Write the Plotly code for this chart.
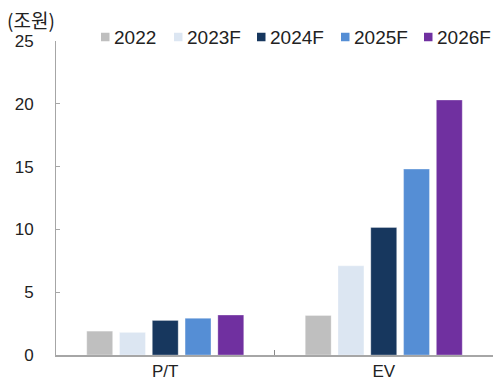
import plotly.graph_objects as go

categories = ["P/T", "EV"]
series_names = ["2022", "2023F", "2024F", "2025F", "2026F"]
values_2022 = [1.9, 3.15]
values_2023f = [1.8, 7.1]
values_2024f = [2.75, 10.15]
values_2025f = [2.92, 14.8]
values_2026f = [3.18, 20.3]
y_ticks = [0, 5, 10, 15, 20, 25]

colors = ["#BFBFBF", "#DCE6F2", "#17375E", "#558ED5", "#7030A0"]
series_values = [values_2022, values_2023f, values_2024f, values_2025f, values_2026f]

W, H = 493, 388
M_L, M_R, M_T, M_B = 56, 0, 41, 33
plot_w = W - M_L - M_R
plot_h = H - M_T - M_B

font_main = "Liberation Sans, Arial, sans-serif"

fig = go.Figure()
for name, vals, col in zip(series_names, series_values, colors):
    fig.add_trace(go.Bar(
        name=name, x=categories, y=vals, showlegend=False,
        marker=dict(color=col, line=dict(color="rgba(255,255,255,0.6)", width=0.5)),
    ))

# Custom legend row across the top (pixel layout converted to paper coords)
legend_left_px = [101, 174, 257, 341, 424]
legend_mid_px = 37
swatch = 8.5
shapes, annotations = [], []
for name, col, lx in zip(series_names, colors, legend_left_px):
    x0 = (lx - M_L) / plot_w
    x1 = (lx + swatch - M_L) / plot_w
    y0 = (H - M_B - (legend_mid_px + swatch / 2)) / plot_h
    y1 = (H - M_B - (legend_mid_px - swatch / 2)) / plot_h
    shapes.append(dict(type="rect", xref="paper", yref="paper",
                       x0=x0, x1=x1, y0=y0, y1=y1,
                       fillcolor=col, line=dict(width=0)))
    annotations.append(dict(
        text=name, xref="paper", yref="paper",
        x=(lx + 11 - M_L) / plot_w, y=(H - M_B - legend_mid_px) / plot_h,
        xanchor="left", yanchor="middle", showarrow=False,
        font=dict(family=font_main, size=19, color="#222"),
    ))

annotations.append(dict(
    text="(조원)", xref="paper", yref="paper", x=(5 - M_L) / plot_w,
    y=(H - M_B - 20) / plot_h,
    xanchor="left", yanchor="middle", showarrow=False,
    font=dict(family="Noto Sans CJK KR", size=19, color="#222"),
))

fig.update_layout(
    width=W, height=H,
    margin=dict(l=M_L, r=M_R, t=M_T, b=M_B),
    paper_bgcolor="white", plot_bgcolor="white",
    barmode="group", bargap=0.25, bargroupgap=0.21,
    showlegend=False,
    font=dict(family=font_main, size=16, color="#222"),
    xaxis=dict(
        showline=True, linecolor="#A6A6A6", linewidth=2,
        ticks="inside", tickson="boundaries", ticklen=5, tickcolor="#888",
        tickfont=dict(family=font_main, size=17, color="#222"),
        showgrid=False,
    ),
    yaxis=dict(
        range=[0, 25], tickvals=y_ticks,
        showline=True, linecolor="#A6A6A6", linewidth=1,
        ticks="inside", ticklen=4, tickcolor="#A6A6A6",
        tickfont=dict(family=font_main, size=17, color="#222"),
        showgrid=False, zeroline=False, ticklabelstandoff=18,
    ),
    shapes=shapes,
    annotations=annotations,
)

fig.write_html("out.html")
